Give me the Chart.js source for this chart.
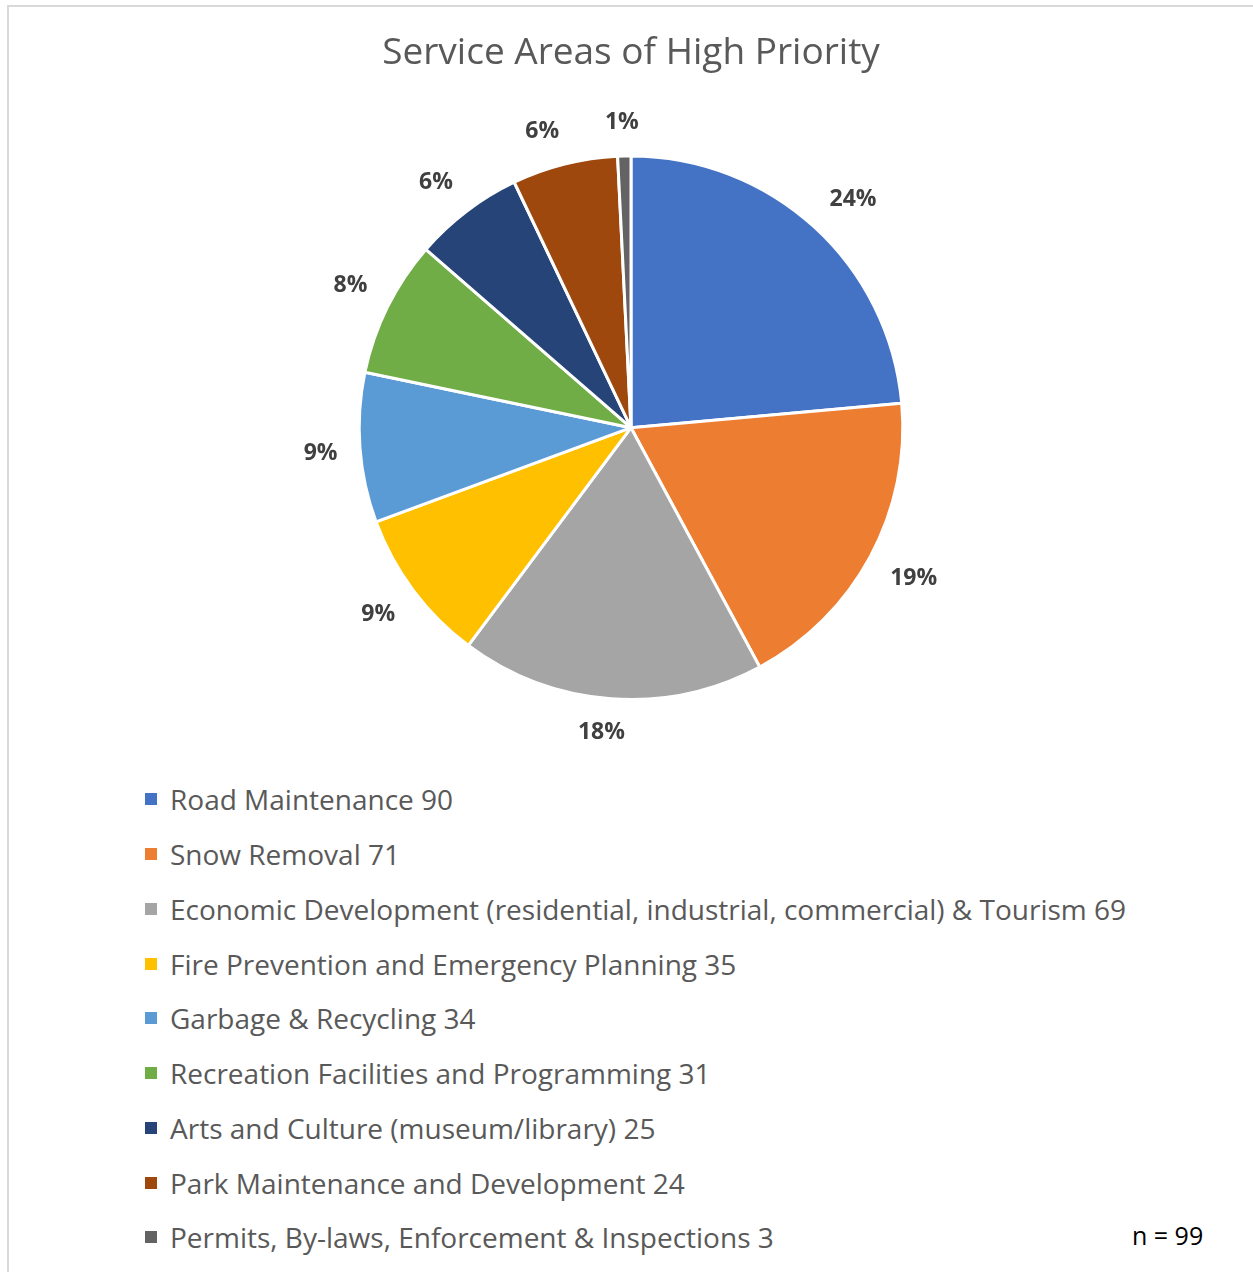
<!DOCTYPE html>
<html>
<head>
<meta charset="utf-8">
<script src="https://cdn.jsdelivr.net/npm/chart.js@4.4.1/dist/chart.umd.min.js"></script>
<style>
  html, body { margin: 0; padding: 0; background: #fff; overflow: hidden; }
  body { width: 1253px; height: 1272px; position: relative; font-family: "Open Sans", sans-serif; }
  #frame { position: absolute; left: 7px; top: 5px; width: 1260px; height: 1290px; border: 2px solid #d9d9d9; box-sizing: border-box; }
  #pieChart { position: absolute; left: 0; top: 0; }
  #legend { position: absolute; left: 145px; top: 772px; }
  .legend-row { height: 54.75px; display: flex; align-items: center; color: #595959; font-size: 28px; white-space: nowrap; }
  .legend-box { width: 12px; height: 12px; margin-right: 13px; flex: none; }
  #nLabel { position: absolute; left: 1132px; top: 1218px; font-size: 25px; color: #000; }
</style>
</head>
<body>
<div id="frame"></div>
<canvas id="pieChart" width="1253" height="760"></canvas>
<div id="legend"></div>
<div id="nLabel">n = 99</div>
<script>
// data
const areaNames = [
    'Road Maintenance',
    'Snow Removal',
    'Economic Development (residential, industrial, commercial) & Tourism',
    'Fire Prevention and Emergency Planning',
    'Garbage & Recycling',
    'Recreation Facilities and Programming',
    'Arts and Culture (museum/library)',
    'Park Maintenance and Development',
    'Permits, By-laws, Enforcement & Inspections'
]
const areaCounts = [90, 71, 69, 35, 34, 31, 25, 24, 3]
const pctLabels  = ['24%', '19%', '18%', '9%', '9%', '8%', '6%', '6%', '1%']
const sliceColors = ['#4472C4', '#ED7D31', '#A5A5A5', '#FFC000', '#5B9BD5', '#70AD47', '#264478', '#9E480E', '#636363']

//-------------
//- LEGEND -
//-------------
const legendEl = document.getElementById('legend')
areaNames.forEach((name, i) => {
    const row = document.createElement('div')
    row.className = 'legend-row'
    const box = document.createElement('span')
    box.className = 'legend-box'
    box.style.background = sliceColors[i]
    row.appendChild(box)
    row.appendChild(document.createTextNode(name + ' ' + areaCounts[i]))
    legendEl.appendChild(row)
})

//-------------
//- PERCENT LABELS (outside end) -
//-------------
const clamp1 = (v) => Math.max(-1, Math.min(1, v))
const outsideLabels = {
    id: 'outsideLabels',
    afterDatasetsDraw(chart) {
        const ctx = chart.ctx
        const arcs = chart.getDatasetMeta(0).data
        ctx.save()
        ctx.font = 'bold 23px "Open Sans"'
        ctx.fillStyle = '#404040'
        ctx.textAlign = 'center'
        ctx.textBaseline = 'middle'
        arcs.forEach((arc, i) => {
            const p = arc.getProps(['x', 'y', 'startAngle', 'endAngle', 'outerRadius'], true)
            const mid = (p.startAngle + p.endAngle) / 2
            const dx = Math.cos(mid)
            const dy = Math.sin(mid)
            const w = ctx.measureText(pctLabels[i]).width
            const h = 22
            // nearest corner of the label box sits just outside the rim
            const r = p.outerRadius + 22.5
            const lx = p.x + dx * r + (w / 2) * clamp1(4.5 * dx)
            const ly = p.y + dy * r + (h / 2) * clamp1(4.5 * dy)
            ctx.fillText(pctLabels[i], lx, ly)
        })
        ctx.restore()
    }
}

const pieCanvas = document.getElementById('pieChart').getContext('2d')
new Chart(pieCanvas, {
    type: 'pie',
    data: {
        labels: areaNames,
        datasets: [
            {
                data: areaCounts,
                backgroundColor: sliceColors,
                borderColor: '#ffffff',
                borderWidth: 3
            }
        ]
    },
    options: {
        responsive: false,
        animation: false,
        devicePixelRatio: 1,
        layout: { padding: { left: 9, right: 0, top: 0, bottom: 59 } },
        plugins: {
            legend: { display: false },
            tooltip: { enabled: false },
            title: {
                display: true,
                text: 'Service Areas of High Priority',
                color: '#595959',
                font: { family: '"Open Sans"', size: 37, weight: 'normal' },
                padding: { top: 31, bottom: 79 }
            }
        }
    },
    plugins: [outsideLabels]
})
</script>
</body>
</html>
